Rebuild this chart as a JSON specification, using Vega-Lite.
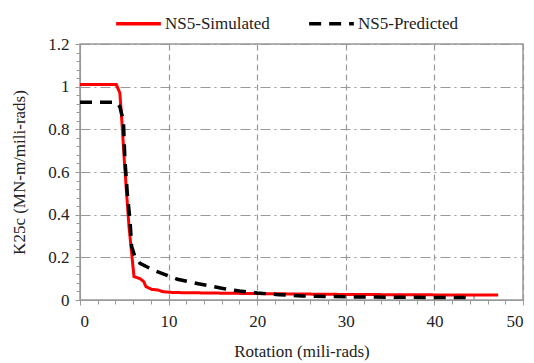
{
  "$schema": "https://vega.github.io/schema/vega-lite/v6.json",
  "width": 443,
  "height": 256,
  "autosize": "none",
  "padding": {"left": 80, "top": 44, "right": 11, "bottom": 63},
  "background": "white",
  "config": {
    "font": "Liberation Serif",
    "view": {"stroke": "#999999", "strokeWidth": 1.5},
    "axis": {"labelFont": "Liberation Serif", "titleFont": "Liberation Serif", "labelFontSize": 17, "titleFontSize": 17, "titleFontWeight": "normal", "labelColor": "#222222", "titleColor": "#222222", "domainColor": "#999999", "tickColor": "#999999"},
    "legend": {"labelFont": "Liberation Serif", "labelFontSize": 17, "labelColor": "#222222"}
  },
  "datasets": {
    "sim": [
      {"rotation": 0, "k25c": 1.01, "series": "NS5-Simulated"},
      {"rotation": 4.1, "k25c": 1.01, "series": "NS5-Simulated"},
      {"rotation": 4.5, "k25c": 0.97, "series": "NS5-Simulated"},
      {"rotation": 4.77, "k25c": 0.81, "series": "NS5-Simulated"},
      {"rotation": 5.0, "k25c": 0.656, "series": "NS5-Simulated"},
      {"rotation": 5.26, "k25c": 0.5, "series": "NS5-Simulated"},
      {"rotation": 5.53, "k25c": 0.344, "series": "NS5-Simulated"},
      {"rotation": 5.83, "k25c": 0.22, "series": "NS5-Simulated"},
      {"rotation": 6.09, "k25c": 0.11, "series": "NS5-Simulated"},
      {"rotation": 6.77, "k25c": 0.1, "series": "NS5-Simulated"},
      {"rotation": 7.2, "k25c": 0.086, "series": "NS5-Simulated"},
      {"rotation": 7.44, "k25c": 0.063, "series": "NS5-Simulated"},
      {"rotation": 8.08, "k25c": 0.05, "series": "NS5-Simulated"},
      {"rotation": 8.8, "k25c": 0.047, "series": "NS5-Simulated"},
      {"rotation": 9.37, "k25c": 0.039, "series": "NS5-Simulated"},
      {"rotation": 10.5, "k25c": 0.035, "series": "NS5-Simulated"},
      {"rotation": 20, "k25c": 0.03, "series": "NS5-Simulated"},
      {"rotation": 30, "k25c": 0.026, "series": "NS5-Simulated"},
      {"rotation": 40, "k25c": 0.024, "series": "NS5-Simulated"},
      {"rotation": 47.2, "k25c": 0.023, "series": "NS5-Simulated"}
    ],
    "pred": [
      {"rotation": 0, "k25c": 0.927, "series": "NS5-Predicted"},
      {"rotation": 4.1, "k25c": 0.927, "series": "NS5-Predicted"},
      {"rotation": 4.5, "k25c": 0.906, "series": "NS5-Predicted"},
      {"rotation": 4.9, "k25c": 0.84, "series": "NS5-Predicted"},
      {"rotation": 5.07, "k25c": 0.656, "series": "NS5-Predicted"},
      {"rotation": 5.34, "k25c": 0.5, "series": "NS5-Predicted"},
      {"rotation": 5.64, "k25c": 0.375, "series": "NS5-Predicted"},
      {"rotation": 5.83, "k25c": 0.25, "series": "NS5-Predicted"},
      {"rotation": 6.2, "k25c": 0.203, "series": "NS5-Predicted"},
      {"rotation": 6.77, "k25c": 0.172, "series": "NS5-Predicted"},
      {"rotation": 8.27, "k25c": 0.14, "series": "NS5-Predicted"},
      {"rotation": 11.0, "k25c": 0.097, "series": "NS5-Predicted"},
      {"rotation": 13.5, "k25c": 0.075, "series": "NS5-Predicted"},
      {"rotation": 16, "k25c": 0.055, "series": "NS5-Predicted"},
      {"rotation": 18, "k25c": 0.042, "series": "NS5-Predicted"},
      {"rotation": 20, "k25c": 0.033, "series": "NS5-Predicted"},
      {"rotation": 22.5, "k25c": 0.025, "series": "NS5-Predicted"},
      {"rotation": 25, "k25c": 0.019, "series": "NS5-Predicted"},
      {"rotation": 30, "k25c": 0.015, "series": "NS5-Predicted"},
      {"rotation": 35, "k25c": 0.013, "series": "NS5-Predicted"},
      {"rotation": 40, "k25c": 0.012, "series": "NS5-Predicted"},
      {"rotation": 44.5, "k25c": 0.012, "series": "NS5-Predicted"}
    ]
  },
  "resolve": {"axis": {"x": "independent", "y": "independent"}},
  "layer": [
    {
      "data": {"name": "sim"},
      "mark": {"type": "line", "strokeWidth": 3, "clip": true},
      "encoding": {
        "x": {"field": "rotation", "type": "quantitative", "scale": {"domain": [0, 50], "nice": false},
          "axis": {"orient": "bottom", "title": "Rotation (mili-rads)", "labelFont": "Liberation Serif", "titleFont": "Liberation Serif", "values": [0, 10, 20, 30, 40, 50], "tickSize": 5, "labelPadding": 8, "titlePadding": 14, "grid": true, "gridDash": [6, 4], "gridColor": "#999999", "gridWidth": 1.2}},
        "y": {"field": "k25c", "type": "quantitative", "scale": {"domain": [0, 1.2], "nice": false},
          "axis": {"orient": "left", "title": "K25c (MN-m/mili-rads)", "labelFont": "Liberation Serif", "titleFont": "Liberation Serif", "values": [0, 0.2, 0.4, 0.6, 0.8, 1, 1.2], "format": "~g", "tickSize": 5, "labelPadding": 6, "titlePadding": 19, "grid": true, "gridDash": [10, 4, 2, 4], "gridColor": "#999999", "gridWidth": 1.2}},
        "color": {"field": "series", "type": "nominal", "scale": {"domain": ["NS5-Simulated", "NS5-Predicted"], "range": ["#ff0000", "#000000"]},
          "legend": {"title": null, "orient": "none", "legendX": 34, "legendY": -45, "direction": "horizontal", "symbolType": "stroke", "symbolSize": 2000, "symbolStrokeWidth": 3.5, "columnPadding": 32, "labelOffset": 2}},
        "strokeDash": {"field": "series", "type": "nominal", "scale": {"domain": ["NS5-Simulated", "NS5-Predicted"], "range": [[1, 0], [12, 8]]}, "legend": {"title": null, "orient": "none", "legendX": 34, "legendY": -45, "direction": "horizontal", "symbolType": "stroke", "symbolSize": 2000, "symbolStrokeWidth": 3.5, "columnPadding": 32, "labelOffset": 2}}
      }
    },
    {
      "data": {"name": "pred"},
      "mark": {"type": "line", "strokeWidth": 3.5, "clip": true},
      "encoding": {
        "x": {"field": "rotation", "type": "quantitative", "scale": {"domain": [0, 50], "nice": false},
          "axis": {"orient": "bottom", "title": null, "labels": false, "grid": false, "values": [2, 4, 6, 8, 12, 14, 16, 18, 22, 24, 26, 28, 32, 34, 36, 38, 42, 44, 46, 48], "tickSize": 4}},
        "y": {"field": "k25c", "type": "quantitative", "scale": {"domain": [0, 1.2], "nice": false},
          "axis": {"orient": "left", "title": null, "labels": false, "grid": false, "values": [0.04, 0.08, 0.12, 0.16, 0.24, 0.28, 0.32, 0.36, 0.44, 0.48, 0.52, 0.56, 0.64, 0.68, 0.72, 0.76, 0.84, 0.88, 0.92, 0.96, 1.04, 1.08, 1.12, 1.16], "tickSize": 4}},
        "color": {"field": "series", "type": "nominal"},
        "strokeDash": {"field": "series", "type": "nominal"}
      }
    }
  ]
}
